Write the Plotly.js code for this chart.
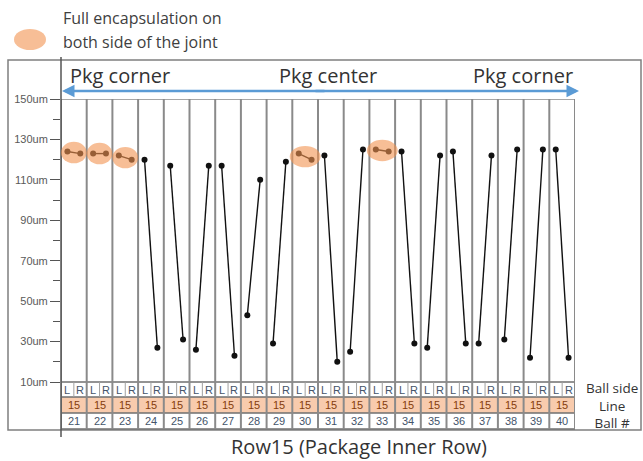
<!DOCTYPE html>
<html>
<head>
<meta charset="utf-8">
<script src="https://cdn.plot.ly/plotly-3.0.1.min.js"></script>
<style>html,body{margin:0;padding:0;background:#fff;}#chart{width:643px;height:461px;}</style>
</head>
<body>
<div id="chart"></div>
<script>
// ---- data ----
var balls = [21,22,23,24,25,26,27,28,29,30,31,32,33,34,35,36,37,38,39,40];
var leftVals  = [124,123,122,120,117,26,117,43,29,123,122,25,125,124,27,124,29,31,22,125];
var rightVals = [123,123,120,27,31,117,23,110,119,120,20,125,124,29,122,29,122,125,125,22];
var lineNums = [15,15,15,15,15,15,15,15,15,15,15,15,15,15,15,15,15,15,15,15];
var sideLabels = ['L','R'];
var encapsulated = [21,22,23,30,33];
var yTickVals = [10,30,50,70,90,110,130,150];
var yTickText = ['10um','30um','50um','70um','90um','110um','130um','150um'];
var rowLabels = ['Ball side','Line','Ball #'];
var zoneLabels = ['Pkg corner','Pkg center','Pkg corner'];
var legendLines = ['Full encapsulation on','both side of the joint'];
var chartTitle = 'Row15 (Package Inner Row)';

// ---- geometry helpers (pixel -> paper) ----
var W = 643, H = 461, ML = 61, MR = 68, MT = 99, MB = 79;
var PW = W - ML - MR, PH = H - MT - MB;
function px(x){ return (x - ML) / PW; }
function py(y){ return (H - MB - y) / PH; }

var LOFF = 0.25;
var xs = [], ys = [];
balls.forEach(function(b,i){
  xs.push(b - LOFF, b + LOFF, null);
  ys.push(leftVals[i], rightVals[i], null);
});

var traces = [{
  type:'scatter', mode:'lines+markers', x:xs, y:ys, connectgaps:false,
  line:{color:'#111', width:1.4}, marker:{color:'#111', size:6},
  hoverinfo:'skip', showlegend:false
}];

var shapes = [];
var annotations = [];
var gridCol = '#8a8a8a';
var xMin = balls[0] - 0.5, xMax = balls[balls.length-1] + 0.5;

// outer frame
shapes.push({type:'rect', xref:'paper', yref:'paper', x0:px(8), x1:px(641), y0:py(430), y1:py(60),
  line:{color:'#7f7f7f', width:1.5}, layer:'below'});
// orange row fill
shapes.push({type:'rect', xref:'x', yref:'paper', x0:xMin, x1:xMax, y0:py(413), y1:py(397),
  fillcolor:'#f8cbad', line:{width:0}, layer:'below'});
// top line at 150
shapes.push({type:'line', xref:'x', yref:'y', x0:xMin, x1:xMax, y0:150, y1:150, line:{color:gridCol, width:1.5}});
// table horizontal lines
[382,397,413,429].forEach(function(yy){
  shapes.push({type:'line', xref:'x', yref:'paper', x0:xMin, x1:xMax, y0:py(yy), y1:py(yy), line:{color:'#6f6f6f', width:1.5}});
});
// vertical ball boundaries
balls.forEach(function(b){
  shapes.push({type:'line', xref:'x', yref:'paper', x0:b-0.5, x1:b-0.5, y0:py(429), y1:1, line:{color:gridCol, width:2}});
  shapes.push({type:'line', xref:'x', yref:'paper', x0:b, x1:b, y0:py(397), y1:py(382), line:{color:'#a0a0a0', width:1}});
});
shapes.push({type:'line', xref:'x', yref:'paper', x0:xMax, x1:xMax, y0:py(429), y1:1, line:{color:gridCol, width:2}});
// y axis line
shapes.push({type:'line', xref:'paper', yref:'paper', x0:0, x1:0, y0:py(437), y1:py(57), line:{color:'#555', width:1.5}});

// encapsulation ellipses
encapsulated.forEach(function(b){
  var i = balls.indexOf(b);
  var yc = (leftVals[i] + rightVals[i]) / 2;
  var hw = (b === 21 || b === 22 || b === 23) ? 0.5 : 0.6;
  shapes.push({type:'circle', xref:'x', yref:'y', x0:b-hw, x1:b+hw, y0:yc-5.3, y1:yc+5.3,
    fillcolor:'rgb(242,147,80)', opacity:0.6, line:{width:0}, layer:'above'});
});
// legend ellipse
shapes.push({type:'circle', xref:'paper', yref:'paper', x0:px(14), x1:px(46), y0:py(50), y1:py(29),
  fillcolor:'rgb(242,147,80)', opacity:0.6, line:{width:0}});

function ann(o){ o.showarrow = false; if(!o.xanchor) o.xanchor='center'; if(!o.yanchor) o.yanchor='middle'; annotations.push(o); }

// table texts
var tf = {family:'Liberation Sans, Arial, sans-serif', size:11, color:'#44546a'};
balls.forEach(function(b,i){
  ann({xref:'x', yref:'paper', x:b-LOFF, y:py(389.5), text:sideLabels[0], font:tf});
  ann({xref:'x', yref:'paper', x:b+LOFF, y:py(389.5), text:sideLabels[1], font:tf});
  ann({xref:'x', yref:'paper', x:b, y:py(405), text:String(lineNums[i]),
    font:{family:tf.family, size:11, color:'#843c0c'}});
  ann({xref:'x', yref:'paper', x:b, y:py(421), text:String(b), font:tf});
});
// right row labels (one multi-line block)
ann({xref:'paper', yref:'paper', x:px(612), y:py(405), text:rowLabels.join('<br>'), align:'center',
  font:{family:'Open Sans, sans-serif', size:13.5, color:'#333'}});
// zone labels
var zf = {family:'Open Sans, sans-serif', size:20, color:'#333'};
ann({xref:'paper', yref:'paper', x:px(68), y:py(75), xanchor:'left', text:zoneLabels[0], font:zf});
ann({xref:'paper', yref:'paper', x:px(328), y:py(75), text:zoneLabels[1], font:zf});
ann({xref:'paper', yref:'paper', x:px(575), y:py(75), xanchor:'right', text:zoneLabels[2], font:zf});
// double arrow
annotations.push({xref:'paper', yref:'paper', x:px(62), y:py(91), ax:326-62, ay:0, axref:'pixel', ayref:'pixel',
  text:'', showarrow:true, arrowhead:2, arrowsize:1, arrowwidth:2.5, arrowcolor:'#5b9bd5'});
annotations.push({xref:'paper', yref:'paper', x:px(579), y:py(91), ax:314-579, ay:0, axref:'pixel', ayref:'pixel',
  text:'', showarrow:true, arrowhead:2, arrowsize:1, arrowwidth:2.5, arrowcolor:'#5b9bd5'});
// legend text
var lf = {family:'Open Sans, sans-serif', size:16, color:'#404040'};
ann({xref:'paper', yref:'paper', x:px(61), y:py(18), xanchor:'left', text:legendLines[0], font:lf});
ann({xref:'paper', yref:'paper', x:px(61), y:py(42), xanchor:'left', text:legendLines[1], font:lf});
// title
ann({xref:'paper', yref:'paper', x:px(359), y:py(446), text:chartTitle,
  font:{family:'Open Sans, sans-serif', size:20, color:'#333'}});

var layout = {
  width:W, height:H, margin:{l:ML, r:MR, t:MT, b:MB, pad:0},
  paper_bgcolor:'#fff', plot_bgcolor:'rgba(0,0,0,0)',
  showlegend:false,
  xaxis:{range:[xMin, xMax], showgrid:false, zeroline:false, showticklabels:false, ticks:'', showline:false, fixedrange:true},
  yaxis:{range:[10,150], tickmode:'array', tickvals:yTickVals, ticktext:yTickText, ticks:'outside', ticklen:10,
    tickcolor:'#555', tickwidth:1, showgrid:false, zeroline:false, showline:false,
    tickfont:{family:'Liberation Sans, Arial, sans-serif', size:11, color:'#595959'},
    minor:{tickvals:[20,40,60,80,100,120,140], ticks:'outside', ticklen:7, tickcolor:'#555', showgrid:false},
    fixedrange:true},
  shapes:shapes, annotations:annotations
};
Plotly.newPlot('chart', traces, layout, {displayModeBar:false, staticPlot:true});
</script>
</body>
</html>
